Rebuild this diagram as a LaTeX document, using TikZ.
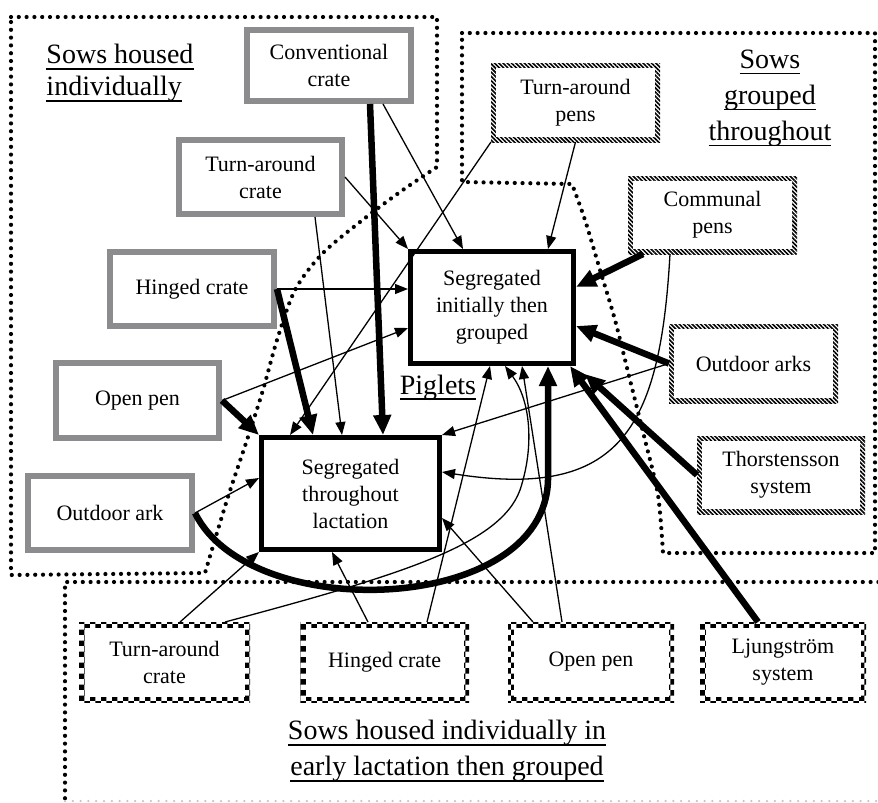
\documentclass[tikz,border=0pt]{standalone}
\usepackage{fontspec}
\setmainfont{Liberation Serif}
\usetikzlibrary{arrows.meta,patterns,patterns.meta,calc}
\definecolor{greyc}{RGB}{140,140,142}
\newcommand{\boxfont}{\fontsize{22}{27}\selectfont}
\newsavebox{\ulbox}
\newcommand{\ulx}[1]{\sbox{\ulbox}{#1}\rlap{\usebox{\ulbox}}\rule[-6pt]{\wd\ulbox}{1.6pt}}
\begin{document}
\begin{tikzpicture}[x=1pt,y=-1pt,
  greybox/.style={draw=greyc, line width=6pt, fill=white, inner sep=0pt, outer sep=3pt,
    align=center, font=\boxfont, minimum width=164pt, minimum height=74pt},
  blackbox/.style={draw=black, line width=5pt, fill=white, inner sep=0pt, outer sep=2.5pt,
    align=center, font=\boxfont},
  hatchbox/.style={fill=white, inner sep=0pt, outer sep=0pt, align=center, font=\boxfont,
    minimum width=169pt, minimum height=79pt,
    path picture={
      \fill[pattern={Lines[angle=-45,distance=3pt,line width=1.6pt]}]
        (path picture bounding box.south west) rectangle (path picture bounding box.north east);
      \fill[white] ([shift={(5pt,5pt)}]path picture bounding box.south west)
        rectangle ([shift={(-5pt,-5pt)}]path picture bounding box.north east);
    }},
  checkbox/.style={fill=white, inner sep=0pt, outer sep=0pt, align=center, font=\boxfont,
    minimum width=169pt, minimum height=80pt,
    path picture={
      \fill[pattern=checkerboard]
        (path picture bounding box.south west) rectangle (path picture bounding box.north east);
      \fill[white] ([shift={(5.5pt,5.5pt)}]path picture bounding box.south west)
        rectangle ([shift={(-5.5pt,-5.5pt)}]path picture bounding box.north east);
    }},
  region/.style={line width=4.2pt, dash pattern=on 0pt off 7.8pt, line cap=round},
  thinarrow/.style={line width=1.3pt, -{Triangle[length=13pt,width=10pt]}},
  thickarrow/.style={line width=6.5pt, -{Triangle[length=20pt,width=17pt]}},
  regiontitle/.style={inner sep=0pt, outer sep=0pt}
]
\useasboundingbox (0,0) rectangle (878,803);

% dotted regions
\draw[region] (11,17) -- (437,17) -- (437,167)
  -- plot[smooth] coordinates {(437,167) (400,192) (360,222) (322,254) (295,290) (277,340) (263,390) (247,440) (227,500) (205,573)}
  -- (11,575) -- cycle;
\draw[region] (462,33) -- (875,33) -- (875,553) -- (663,553)
  -- plot[smooth] coordinates {(663,553) (658,495) (645,440) (630,380) (615,320) (600,270) (585,220) (572,184)}
  -- (462,182) -- cycle;
\draw[region] (65,806) -- (65,582) -- (885,582);
\draw[region, draw=gray!45, line width=2.5pt] (65,801) -- (885,801);

% grey boxes (sows housed individually)
\node[greybox, minimum height=71pt] (conv) at (329,65.5) {Conventional\\crate};
\node[greybox, minimum width=163pt] (tac) at (260.5,177) {Turn-around\\crate};
\node[greybox] (hin) at (192,289) {Hinged crate};
\node[greybox, minimum width=163pt, minimum height=75pt] (opn) at (137.5,400.5) {Open pen};
\node[greybox] (oda) at (110,513) {Outdoor ark};

% piglet boxes
\node[blackbox, minimum width=163pt, minimum height=112pt] (si) at (492,307.5) {Segregated\\initially then\\grouped};
\node[blackbox, minimum width=178pt, minimum height=112pt] (st) at (350.5,493.5) {Segregated\\throughout\\lactation};

% hatched boxes (sows grouped throughout)
\node[hatchbox] (tap) at (575.5,102.5) {Turn-around\\pens};
\node[hatchbox, minimum height=78pt] (com) at (712.5,215) {Communal\\pens};
\node[hatchbox] (oas) at (753.5,363.5) {Outdoor arks};
\node[hatchbox, minimum width=168pt, minimum height=78pt] (tho) at (781,475) {Thorstensson\\system};

% checkered boxes (individually then grouped)
\node[checkbox, minimum width=171pt] (btac) at (164.5,662) {Turn-around\\crate};
\node[checkbox] (bhin) at (384.5,662) {Hinged crate};
\node[checkbox, minimum width=166pt] (bopn) at (591,662) {Open pen};
\node[checkbox, minimum width=166pt] (blju) at (783,662) {Ljungström\\system};

% titles
\node[regiontitle, align=left, font=\fontsize{28}{32}\selectfont] (t1) at (120,73) {\ulx{Sows housed}\\\ulx{individually}};
\node[regiontitle, align=center, font=\fontsize{28}{36}\selectfont] (t2) at (770,98) {\ulx{Sows}\\\ulx{grouped}\\\ulx{throughout}};
\node[regiontitle, anchor=base, font=\fontsize{28}{32}\selectfont] (t3) at (438,394) {\ulx{Piglets}};
\node[regiontitle, align=center, font=\fontsize{28}{36}\selectfont] (t4) at (447,751) {\ulx{Sows housed individually in}\\\ulx{early lactation then grouped}};

% arrows into "Segregated initially then grouped"
\draw[thinarrow] (tac.east) -- (si.north west);
\draw[thinarrow] ($(conv.south)+(54,0)$) -- ($(si.north)+(-29,0)$);
\draw[thinarrow] (tap.south) -- ($(si.north)+(56,0)$);
\draw[thinarrow] (hin.east) -- (hin.east -| si.west);
\draw[thinarrow] (opn.east) -- ($(si.west)+(0,20.5)$);
\draw[thickarrow] ($(com.south west)+(15,0)$) -- ($(si.east)+(0,-20.5)$);
\draw[thickarrow] (oas.west) -- ($(si.east)+(0,18.5)$);
\draw[thinarrow] ($(bhin.north)+(42.5,0)$) -- ($(si.south)+(-2,0)$);
\draw[thinarrow] ($(btac.north)+(60.5,0)$) .. controls (400,575) and (500,545) .. (520,490)
  .. controls (535,445) and (530,400) .. ($(si.south)+(13,0)$);
\draw[thinarrow] ($(bopn.north)+(-29,0)$) -- ($(si.south)+(30,0)$);
\draw[thickarrow] (oda.east) .. controls (250,625) and (545,615) .. (548,480) -- ($(si.south)+(56,0)$);
\draw[thickarrow] ($(blju.north)+(-25,0)$) -- ($(si.south east)+(-6,0)$);
\draw[thickarrow, shorten >=12pt] (tho.west) -- (si.south east);

% arrows into "Segregated throughout lactation"
\draw[thinarrow] (tap.south west) -- ($(st.north west)+(31,0)$);
\draw[thickarrow] (hin.east) -- ($(st.north west)+(54,0)$);
\draw[thinarrow] ($(tac.south)+(54.5,0)$) -- ($(st.north west)+(83,0)$);
\draw[thickarrow] ($(conv.south)+(41,0)$) -- ($(st.north west)+(124,0)$);
\draw[thickarrow] (opn.east) -- (st.north west);
\draw[thinarrow] (oda.east) -- ($(st.west)+(0,-15.5)$);
\draw[thinarrow] ($(btac.north)+(15.5,0)$) -- (st.south west);
\draw[thinarrow] ($(bhin.north)+(-16.5,0)$) -- ($(st.south)+(-18.5,0)$);
\draw[thinarrow] ($(bopn.north west)+(25,0)$) -- ($(st.east)+(0,24.5)$);
\draw[thinarrow] ($(com.south)+(-42.5,0)$) .. controls (660,430) and (620,500) .. ($(st.east)+(0,-21.5)$);
\draw[thinarrow] (oas.west) -- (st.north east);
\end{tikzpicture}
\end{document}
